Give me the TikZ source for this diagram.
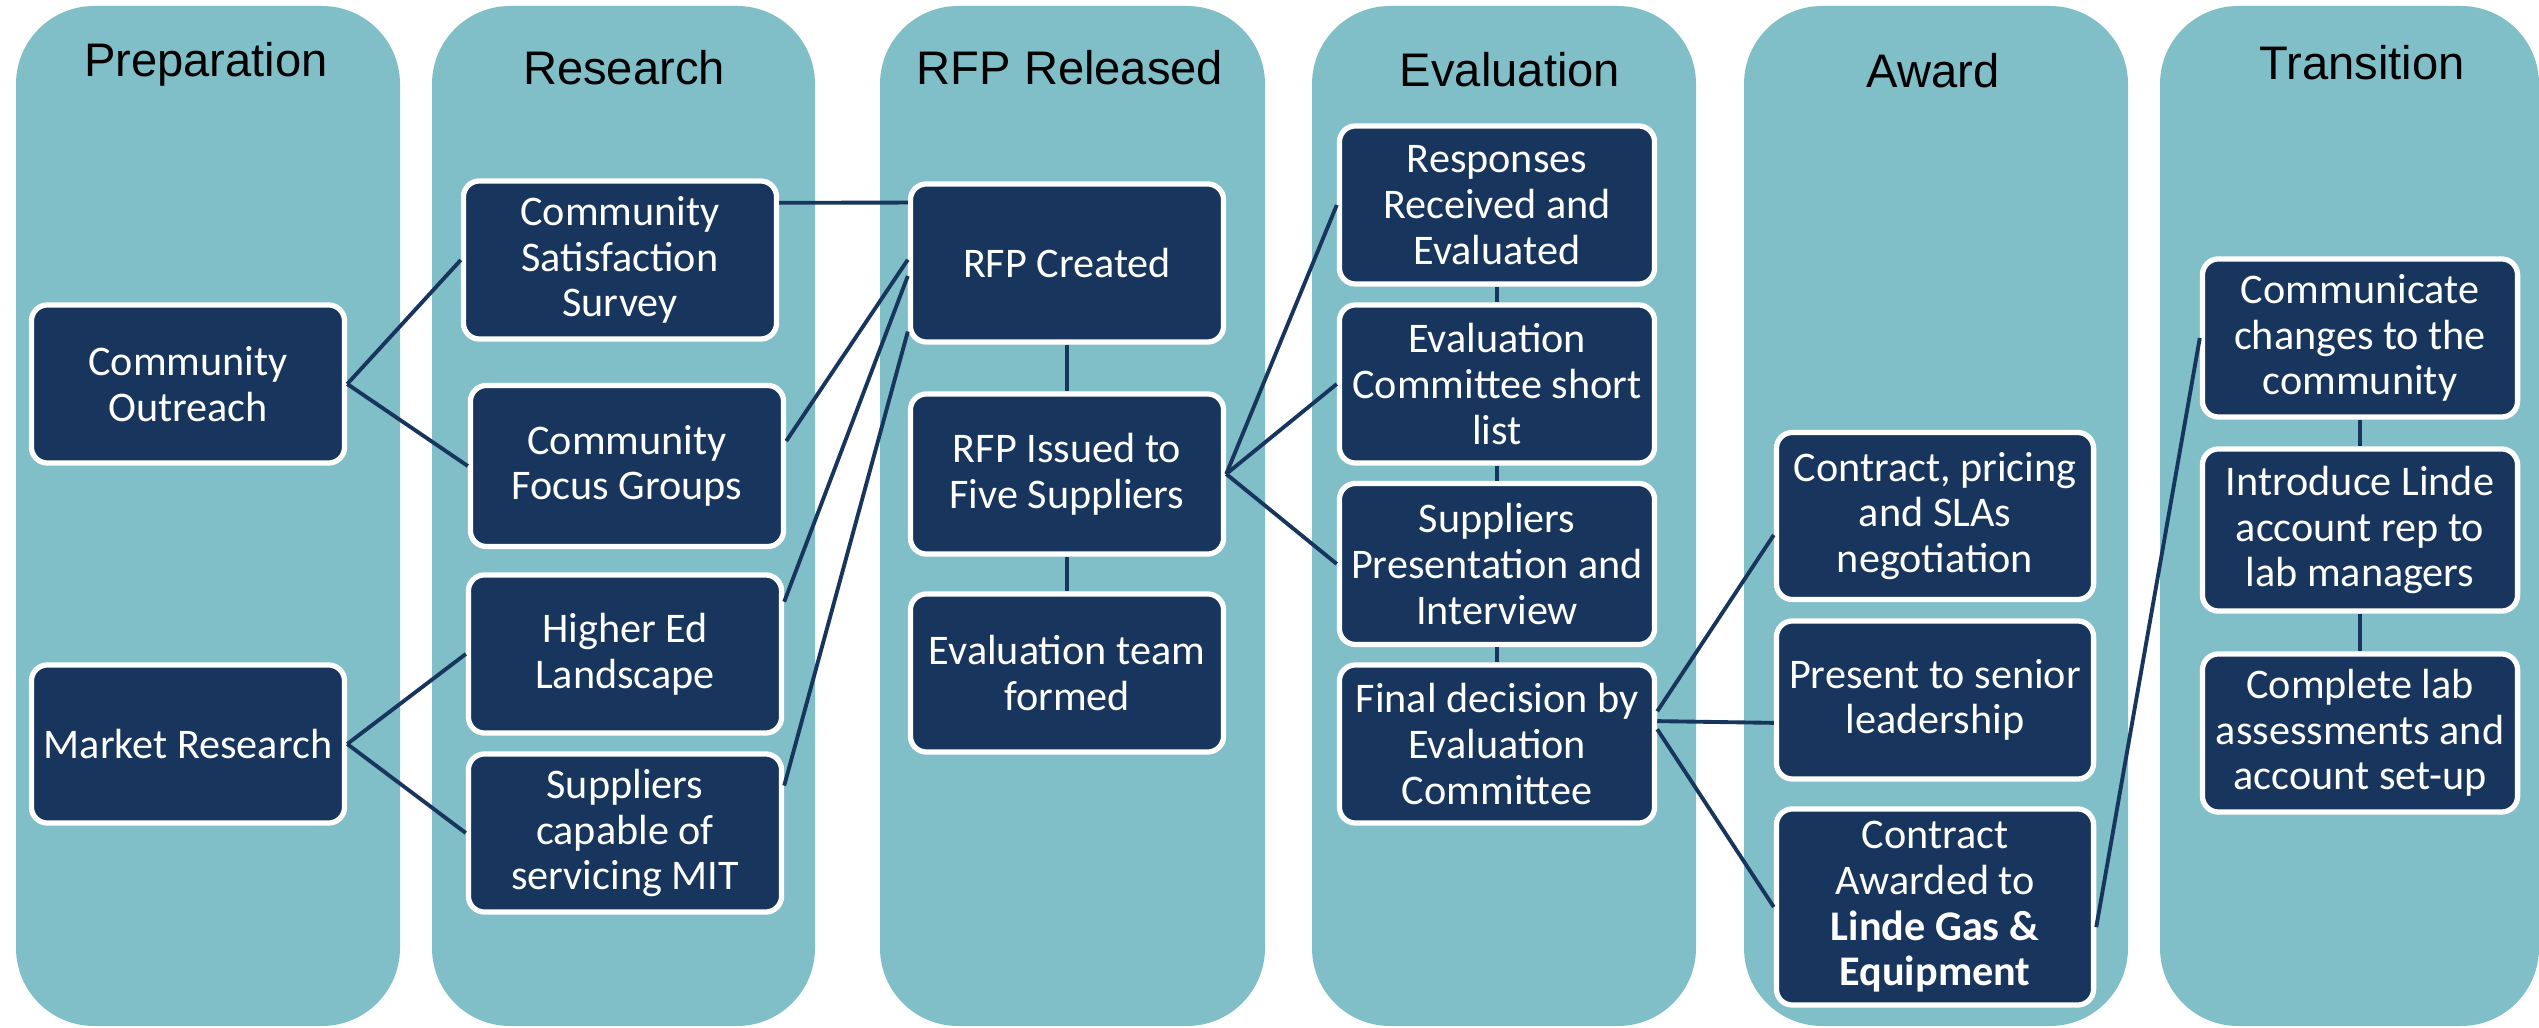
\documentclass[tikz,border=0pt]{standalone}
\usepackage{fontspec}
\newfontfamily\boxfont{Carlito}
\newfontfamily\headfont{Liberation Sans}
\usetikzlibrary{calc}
\definecolor{lanefill}{RGB}{128,191,200}
\definecolor{navy}{RGB}{24,54,93}
\tikzset{
	lane/.style={fill=lanefill, rounded corners=0.78cm},
	phase/.style={anchor=base, text=black, font=\headfont\fontsize{13.4}{16}\selectfont},
	task/.style={draw=white, line width=1.5pt, fill=navy, rounded corners=0.16cm, text=white, align=center, inner sep=1pt, minimum width=3.13cm, minimum height=1.58cm, font=\boxfont\fontsize{12}{13}\selectfont},
	link/.style={draw=navy, line width=1.1pt}
}

\begin{document}
\begin{tikzpicture}[x=0.01cm, y=-0.01cm]
		%%%%% START %%%%%
		\useasboundingbox (0,0) rectangle (2539,1028);
		
		% lanes
		\fill[lane] (16,6) rectangle (400,1026);
		\fill[lane] (432,6) rectangle (815,1026);
		\fill[lane] (880,6) rectangle (1265,1026);
		\fill[lane] (1312,6) rectangle (1696,1026);
		\fill[lane] (1744,6) rectangle (2128,1026);
		\fill[lane] (2160,6) rectangle (2539,1026);
		
		\node[phase] (prep) at (206,77) {Preparation};
		\node[phase] (research) at (624,85) {Research};
		\node[phase] (released) at (1070,85) {RFP Released};
		\node[phase] (evaluation) at (1510,87) {Evaluation};
		\node[phase] (award) at (1933,88) {Award};
		\node[phase] (transition) at (2362,80) {Transition};
		
		% preparation
		\node[task] (outreach) at (188,384) {Community\\Outreach};
		\node[task] (market) at (188,744) {Market Research};
		
		% research
		\node[task] (survey) at (620,260) {Community\\Satisfaction\\Survey};
		\node[task, minimum height=1.61cm] (focus) at (627,466) {Community\\Focus Groups};
		\node[task] (landscape) at (625,654) {Higher Ed\\Landscape};
		\node[task] (capable) at (625,833) {Suppliers\\capable of\\servicing MIT};
		
		% rfp released
		\node[task] (created) at (1067,263) {RFP Created};
		\node[task, minimum height=1.6cm] (issued) at (1067,474) {RFP Issued to\\Five Suppliers};
		\node[task] (team) at (1067,673) {Evaluation team\\formed};
		
		% evaluation
		\node[task, minimum width=3.15cm] (responses) at (1497,205) {Responses\\Received and\\Evaluated};
		\node[task, minimum width=3.15cm] (shortlist) at (1497,384) {Evaluation\\Committee short\\list};
		\node[task, minimum width=3.15cm, minimum height=1.61cm] (presentation) at (1497,564) {Suppliers\\Presentation and\\Interview};
		\node[task, minimum width=3.15cm] (final) at (1497,744) {Final decision by\\Evaluation\\Committee};
		
		% award
		\node[task, minimum width=3.17cm, minimum height=1.67cm] (pricing) at (1935,516) {Contract, pricing\\and SLAs\\negotiation};
		\node[task, minimum width=3.17cm] (senior) at (1935,700) {Present to senior\\leadership};
		\node[task, minimum width=3.17cm, minimum height=1.96cm] (awarded) at (1935,907) {Contract\\Awarded to\\\textbf{Linde Gas \&}\\\textbf{Equipment}};
		
		% transition
		\node[task, minimum width=3.15cm] (communicate) at (2360,338) {Communicate\\changes to the\\community};
		\node[task, minimum width=3.15cm, minimum height=1.62cm] (introduce) at (2360,530) {Introduce Linde\\account rep to\\lab managers};
		\node[task, minimum width=3.15cm] (complete) at (2360,733) {Complete lab\\assessments and\\account set-up};
		
		% connectors
		\draw[link] (outreach.east) -- (survey.west);
		\draw[link] (outreach.east) -- (focus.west);
		\draw[link] (market.east) -- (landscape.west);
		\draw[link] (market.east) -- (capable.west);
		
		\draw[link] ($(survey.north east)!0.15!(survey.south east)$) -- ($(created.north west)!0.13!(created.south west)$);
		\draw[link] ($(focus.north east)!0.35!(focus.south east)$) -- ($(created.north west)!0.48!(created.south west)$);
		\draw[link] ($(landscape.north east)!0.18!(landscape.south east)$) -- ($(created.north west)!0.58!(created.south west)$);
		\draw[link] ($(capable.north east)!0.21!(capable.south east)$) -- ($(created.north west)!0.92!(created.south west)$);
		
		\draw[link] (created.south) -- (issued.north);
		\draw[link] (issued.south) -- (team.north);
		
		\draw[link] (issued.east) -- (responses.west);
		\draw[link] (issued.east) -- (shortlist.west);
		\draw[link] (issued.east) -- (presentation.west);
		
		\draw[link] (responses.south) -- (shortlist.north);
		\draw[link] (shortlist.south) -- (presentation.north);
		\draw[link] (presentation.south) -- (final.north);
		
		\draw[link] ($(final.north east)!0.3!(final.south east)$) -- ($(pricing.north west)!0.61!(pricing.south west)$);
		\draw[link] ($(final.north east)!0.36!(final.south east)$) -- ($(senior.north west)!0.64!(senior.south west)$);
		\draw[link] ($(final.north east)!0.41!(final.south east)$) -- (awarded.west);
		
		\draw[link] ($(awarded.north east)!0.6!(awarded.south east)$) -- (communicate.west);
		\draw[link] (communicate.south) -- (introduce.north);
		\draw[link] (introduce.south) -- (complete.north);
		%%%%% END %%%%%
\end{tikzpicture}
\end{document}
